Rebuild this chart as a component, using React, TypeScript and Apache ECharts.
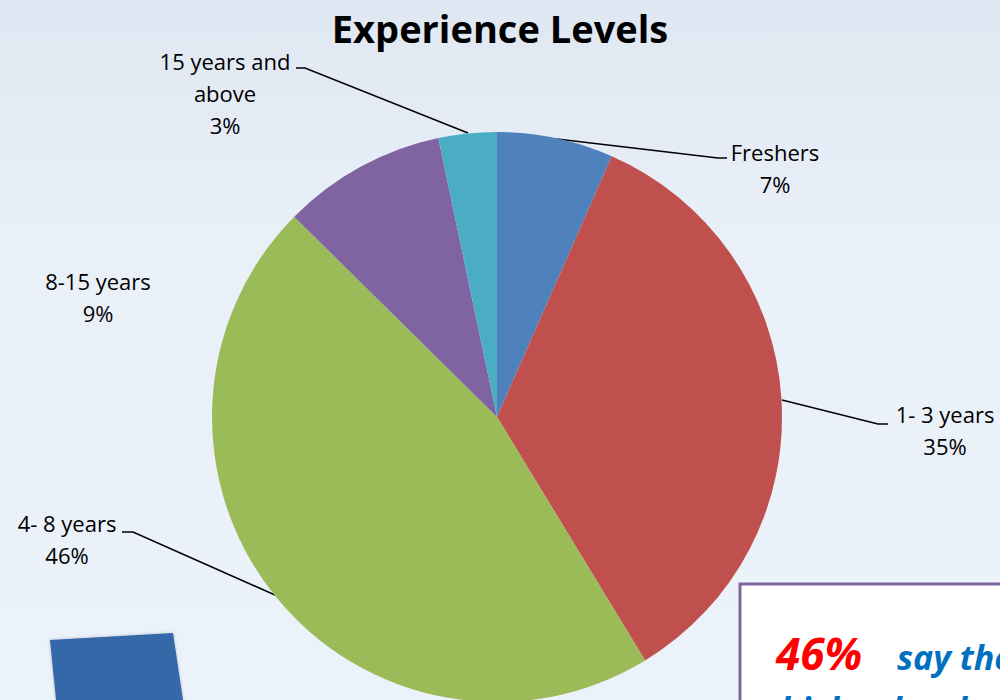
import React, { useEffect, useRef } from "react";
import * as echarts from "echarts";

const categories = ["Freshers", "1- 3 years", "4- 8 years", "8-15 years", "15 years and\nabove"];
const values = [6.6, 34.7, 46.1, 9.3, 3.3];
const colors = ["#4f81bd", "#c0504d", "#9bbb59", "#8064a2", "#4bacc6"];
const titleText = "Experience Levels";

// label placements (layout only)
const labelPos = [
  { x: 775, y: 168, line: [[557, 139], [718, 158], [727, 158]] },
  { x: 945, y: 430, line: [[782, 400], [878, 424], [888, 424]] },
  { x: 67, y: 539, line: [[275, 595], [133, 532], [122, 532]] },
  { x: 98, y: 297, line: null },
  { x: 225, y: 93, line: [[468, 133], [305, 68], [296, 68]] },
];

export default function App() {
  const ref = useRef<HTMLDivElement>(null);
  useEffect(() => {
    const chart = echarts.init(ref.current!, null, { renderer: "svg" });
    const font = "'Open Sans', 'Noto Sans', sans-serif";
    chart.setOption({
      animation: false,
      backgroundColor: {
        type: "linear", x: 0, y: 0, x2: 0, y2: 1,
        colorStops: [
          { offset: 0, color: "#dfe7f2" },
          { offset: 0.35, color: "#eaf0f8" },
          { offset: 1, color: "#ecf2fa" },
        ],
      },
      title: {
        text: titleText,
        left: "center",
        top: 4,
        textStyle: { fontFamily: font, fontSize: 38, fontWeight: "bold", color: "#000" },
      },
      graphic: [
        {
          type: "polygon",
          shape: { points: [[50, 640], [173, 633], [183, 700], [56, 700]] },
          style: { fill: "#3567a8", shadowBlur: 3, shadowColor: "rgba(0,0,0,0.25)" },
        },
        {
          type: "rect",
          shape: { x: 740, y: 584, width: 280, height: 140 },
          style: { fill: "#ffffff", stroke: "#8064a2", lineWidth: 3 },
        },
        {
          type: "text",
          x: 776, y: 675,
          style: {
            text: "46%",
            fill: "#ff0000",
            font: "italic bold 44px 'Open Sans', sans-serif",
            textVerticalAlign: "bottom",
          },
        },
        {
          type: "text",
          x: 897, y: 674,
          style: {
            text: "say they",
            fill: "#0070c0",
            font: "italic bold 34px 'Open Sans', sans-serif",
            textVerticalAlign: "bottom",
          },
        },
        {
          type: "text",
          x: 780, y: 692,
          style: {
            text: "higher level",
            fill: "#0070c0",
            font: "italic bold 34px 'Open Sans', sans-serif",
            textVerticalAlign: "top",
          },
        },
      ],
      series: [
        {
          type: "pie",
          center: [497, 417],
          radius: [0, 285],
          startAngle: 90,
          clockwise: true,
          percentPrecision: 0,
          avoidLabelOverlap: false,
          data: categories.map((name, i) => ({
            name,
            value: values[i],
            itemStyle: { color: colors[i] },
            labelLine: { show: labelPos[i].line !== null },
          })),
          label: {
            show: true,
            formatter: "{b}\n{d}%",
            fontFamily: font,
            fontSize: 22,
            lineHeight: 32,
            color: "#000",
            align: "center",
          },
          labelLine: { show: true, lineStyle: { color: "#000", width: 1.5 } },
          labelLayout: (params: any) => {
            const p = labelPos[params.dataIndex];
            const out: any = { x: p.x, y: p.y, align: "center", verticalAlign: "middle" };
            if (p.line) out.labelLinePoints = p.line;
            return out;
          },
        },
      ],
    });
    return () => chart.dispose();
  }, []);
  return (
    <div
      ref={ref}
      style={{ position: "fixed", left: 0, top: 0, width: 1000, height: 700 }}
    />
  );
}
